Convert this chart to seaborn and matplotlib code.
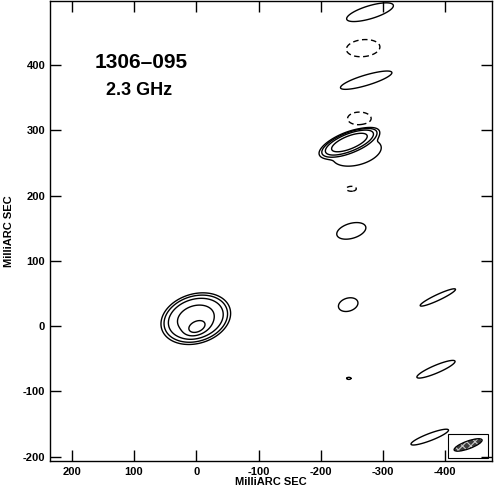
import numpy as np
import matplotlib
matplotlib.use("Agg")
import matplotlib.pyplot as plt
from matplotlib.patches import Ellipse, Rectangle
import seaborn as sns

# ---- map components (mas); size = half-axes of the lowest (|level|=1) contour ----
comp_x     = [0.8, -1.0, -246, -258, -279, -268, -273, -262, -249, -249, -244, -245, -388, -385, -375, 238, 238]
comp_y     = [11.5, -1.0, 282, 266, 481, 426, 377, 318, 210.5, 146, 33, -80, 44, -66, -170, 142, 84]
comp_peak  = [9.5, 20, 10, 1.4, 1.6, -1.6, 1.6, -1.5, -1.2, 1.6, 1.6, 1.2, 1.6, 1.6, 1.6, 1.6, 1.6]
comp_major = [57, 23, 50, 40, 39, 27, 43, 19, 8, 24, 16, 3.5, 31, 33, 32, 5, 5]
comp_minor = [38, 14, 16, 19, 10, 13, 8, 10, 3.8, 11.5, 10, 1.6, 4.5, 6, 5.5, 3, 3]
comp_pa    = [165, 158, 159, 166, 164, 175, 164, 180, 180, 165, 165, 180, 156, 158, 160, 90, 90]
comp_shape = [4, 2, 4, 3, 2, 2, 2, 2, 2, 2, 2, 2, 2, 2, 2, 2, 2]

contour_levels = [-1, 1, 2, 4, 8, 16]

# restoring beam
beam_center = (-436.6, -182.0)
beam_major = 47.5
beam_minor = 12.0
beam_pa = 161
beam_box = (-404.5, -202.1, -64.2, 36.7)

x_ticks = [200, 100, 0, -100, -200, -300, -400]
y_ticks = [-200, -100, 0, 100, 200, 300, 400]
x_limits = (235, -475)
y_limits = (-206.6, 499)

source_name = "1306\u2013095"
frequency_label = "2.3 GHz"
axis_label = "MilliARC SEC"

# ---- style ----
sns.set_theme(style="ticks")
plt.rcParams["font.family"] = ["Liberation Sans", "DejaVu Sans"]
plt.rcParams["font.weight"] = "bold"
plt.rcParams["axes.linewidth"] = 1.0
plt.rcParams["hatch.linewidth"] = 0.8
plt.rcParams["text.color"] = "black"
plt.rcParams["axes.labelcolor"] = "black"
plt.rcParams["axes.edgecolor"] = "black"

fig = plt.figure(figsize=(4.94, 4.87), dpi=100)
ax = fig.add_axes([50 / 494, 1 - 461 / 487, 442 / 494, 460.5 / 487])

# ---- field from components ----
gx = np.arange(-480, 241, 0.5)
gy = np.arange(-212, 505, 0.5)
X, Y = np.meshgrid(gx, gy)
Z = np.zeros_like(X)
for x0, y0, pk, ha, hb, pa, p in zip(comp_x, comp_y, comp_peak, comp_major,
                                     comp_minor, comp_pa, comp_shape):
    t = np.deg2rad(pa)
    dx, dy = X - x0, Y - y0
    u = (dx * np.cos(t) + dy * np.sin(t)) / ha
    v = (-dx * np.sin(t) + dy * np.cos(t)) / hb
    r2 = u * u + v * v
    Z += pk * np.exp(-np.log(abs(pk)) * r2 ** (p / 2))

ax.contour(X, Y, Z, levels=contour_levels, colors="black", linewidths=1.0,
           negative_linestyles=(0, (4, 2.5)))

# beam
ax.add_patch(Ellipse(beam_center, beam_major, beam_minor, angle=beam_pa,
                     facecolor="#3c3c3c", edgecolor="#c8c8c8", hatch="xxxx", lw=0))
ax.add_patch(Ellipse(beam_center, beam_major, beam_minor, angle=beam_pa,
                     fill=False, edgecolor="black", lw=0.9))
bx, by, bw, bh = beam_box
ax.add_patch(Rectangle((bx, by), bw, bh, fill=False, edgecolor="black", lw=0.8))

ax.set_xlim(*x_limits)
ax.set_ylim(*y_limits)
ax.set_xticks(x_ticks)
ax.set_yticks(y_ticks)
ax.set_xticklabels([str(v) for v in x_ticks])
ax.set_yticklabels([str(v) for v in y_ticks])
ax.tick_params(direction="in", length=8, width=1.0, top=True, right=True,
               labelsize=8, colors="black")
ax.tick_params(axis="x", pad=4.5)
ax.tick_params(axis="y", pad=3.5)
for lab in ax.get_xticklabels() + ax.get_yticklabels():
    lab.set_fontweight("bold")

ax.set_xlabel(axis_label, fontsize=8, fontweight="bold", labelpad=0)
ax.set_ylabel(axis_label, fontsize=8, fontweight="bold", labelpad=6)

ax.text(88, 403.5, source_name, ha="center", va="center", fontsize=15, fontweight="bold")
ax.text(91.5, 360.6, frequency_label, ha="center", va="center", fontsize=13, fontweight="bold")

fig.savefig("out.png", dpi=100)
